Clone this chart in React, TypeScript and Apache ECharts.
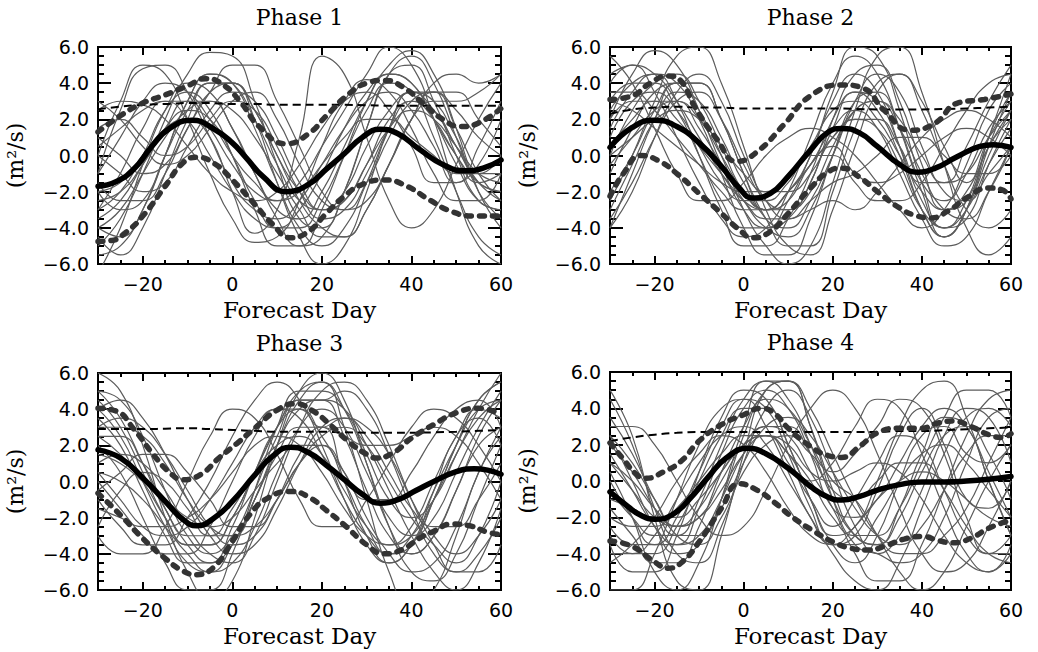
import React, { useEffect, useRef } from 'react';
import * as echarts from 'echarts';

// Forecast days sampled every 5 days (ensemble members and spread line)
const DAYS = [-30, -25, -20, -15, -10, -5, 0, 5, 10, 15, 20, 25, 30, 35, 40, 45, 50, 55, 60];

const TITLES = ['Phase 1', 'Phase 2', 'Phase 3', 'Phase 4'];
const X_LABELS = [-20, 0, 20, 40, 60];
const X_MAJOR = [-20, 0, 20, 40];
const X_MINOR = [-25, -15, -10, -5, 5, 10, 15, 25, 30, 35, 45, 50, 55];
const Y_MAJOR = [-4, -2, 0, 2, 4];
const Y_MINOR = [-5.5, -5, -4.5, -3.5, -3, -2.5, -1.5, -1, -0.5, 0.5, 1, 1.5, 2.5, 3, 3.5, 4.5, 5, 5.5];

type Pt = [number, number];

// ---------- Phase 1 ----------
const P1_MEAN: Pt[] = [[-30, -1.7], [-26, -1.45], [-22, -0.75], [-18, 0.5], [-14, 1.5], [-9, 1.95], [-4, 1.45], [0, 0.7], [3, -0.1], [7, -1.2], [12, -2.0], [17, -1.6], [21, -0.75], [25, 0.1], [29, 1.0], [33, 1.45], [37, 1.2], [42, 0.3], [47, -0.5], [52, -0.85], [56, -0.7], [60, -0.25]];
const P1_UPPER: Pt[] = [[-30, 1.3], [-25, 2.2], [-20, 2.9], [-15, 3.35], [-10, 3.85], [-6, 4.25], [-2, 3.9], [2, 2.9], [6, 1.6], [12, 0.65], [17, 1.2], [21, 2.2], [26, 3.4], [30, 4.0], [34, 4.15], [38, 3.8], [43, 2.8], [47, 2.0], [51, 1.6], [55, 1.8], [60, 2.6]];
const P1_LOWER: Pt[] = [[-30, -4.75], [-27, -4.7], [-24, -4.3], [-20, -3.35], [-15, -1.7], [-11, -0.4], [-8, -0.1], [-4, -0.45], [0, -1.35], [5, -2.7], [9, -3.8], [13, -4.55], [17, -4.2], [21, -3.2], [25, -2.25], [29, -1.6], [34, -1.35], [39, -1.7], [44, -2.45], [49, -3.1], [54, -3.35], [60, -3.35]];
const P1_SPREAD = [2.55, 2.7, 2.8, 2.85, 2.9, 2.9, 2.85, 2.85, 2.8, 2.8, 2.8, 2.8, 2.78, 2.75, 2.75, 2.75, 2.75, 2.75, 2.75];
const P1_MEMBERS = [
  [-5, -3.5, -1, 2, 4.5, 5.7, 5.5, 3, -0.5, -3.5, -4, -2, 1.5, 4.5, 5, 3, 0, -2.5, -3],
  [-1, 2.5, 4.8, 5.0, 3.5, 1, -1.5, -3, -3.5, -2.5, -0.5, 1.5, 3, 3.5, 2.5, 0.5, -1.5, -0.5, 2],
  [0, 3, 5, 4.5, 2, -1, -3.5, -4.8, -4.5, -2.5, 0.5, 3, 4.2, 3.5, 1.5, -1, -2.5, -2.5, -1],
  [-2, -1.5, 0, 1.5, 2, 1, -2, -4.3, -3, 1, 5.5, 4.5, 1, -2.5, -4, -3, -0.5, 2, 4],
  [-3, -2, 0, 2.5, 3.5, 2.5, 0, -3, -5, -5, -3, 0, 3, 5, 5.8, 4.5, 1.5, -2, -4],
  [-6.5, -4, -0.5, 2.5, 4, 3.5, 1.5, -1, -3, -3.5, -2, 0.5, 3, 4.5, 4, 2, 0, -1.5, -2],
  [-4, -4.5, -3, 0, 3, 4.5, 4, 2, -0.5, -2.5, -3, -2, 0.5, 2.5, 3.5, 2.5, 0.5, -1.5, -2.5],
  [2.5, 3, 2.8, 2, 0.5, -1, -2, -2.5, -2, -0.5, 1.5, 3, 3.5, 2.5, 0.5, -1.5, -1.5, 0.5, 3],
  [-2, -3, -2.5, 0, 2.5, 4, 4, 2.5, 0, -2, -3, -2.5, -0.5, 1.5, 2.5, 2, 0.5, -1, -1.5],
  [1, 0, -1, -0.5, 1.5, 3.5, 4, 2, -1.5, -4.5, -6, -5, -2, 1.5, 3.5, 3, 1, -1, -1],
  [-3, -1, 1.5, 3, 3, 1.5, -0.5, -2, -2.5, -1.5, 0.5, 2.5, 4.5, 6, 5, 2, -2, -5, -6],
  [-4.5, -5.5, -4, -1, 2, 4, 4, 2.5, 0, -2.5, -4, -4.5, -3, -0.5, 2, 3, 3, 3.5, 4.5],
  [0.5, 1.5, 2.5, 3, 2, 0, -2, -3.5, -4, -3, -1, 1.5, 3.5, 4.5, 4, 2, -0.5, -2.5, -3],
  [-1.5, -2.5, -2.5, -1, 1.5, 3.5, 5, 5, 3, 0.5, -2, -3, -2.5, -0.5, 2, 3.5, 3.5, 2, 0.5],
  [-5.5, -5, -3, 0, 3, 4.5, 4, 1.5, -1.5, -4, -5, -4, -1.5, 1.5, 3.5, 3.5, 1.5, -1, -2.5],
  [3, 2, 0.5, -0.5, 0, 1.5, 3, 3.5, 2, -0.5, -2.5, -3, -1.5, 1, 3, 3.5, 2.5, 1, 0],
  [-2.5, -2, -0.5, 1.5, 3, 3, 1.5, -1, -3.5, -5, -4.5, -2, 1.5, 4.5, 5.5, 4, 1, -2, -3.5],
  [0, -1, -2, -1.5, 0.5, 2.5, 3.5, 3, 1, -1.5, -3, -2.5, -0.5, 2, 3, 2, 0, -1.5, -1],
  [-3.5, -2.5, -0.5, 1.5, 2.5, 2, 0, -2.5, -4, -4, -2.5, 0, 2.5, 4, 3.5, 1, -2, -4.5, -5.5],
  [1.5, 2, 1, 0, 0.5, 2, 3, 2.5, 0.5, -2, -3.5, -3, -1, 1.5, 3, 2.5, 0.5, -1.5, -2],
  [-1, 1, 3, 4, 3.5, 2, 0, -1.5, -2.5, -2, -0.5, 1, 2, 2, 1, 0, -1, -1, 0],
  [-4, -3, -1, 1, 2.5, 3, 2.5, 1, -1, -3, -4.5, -4.5, -3, -0.5, 2, 4, 4.5, 4, 4.5],
];

// ---------- Phase 2 ----------
const P2_MEAN: Pt[] = [[-30, 0.45], [-25, 1.55], [-20, 1.95], [-15, 1.6], [-10, 0.7], [-5, -0.6], [-1, -1.8], [2, -2.35], [6, -2.1], [10, -1.15], [15, 0.3], [19, 1.3], [22, 1.5], [26, 1.25], [30, 0.5], [35, -0.5], [39, -0.92], [43, -0.7], [48, -0.05], [53, 0.5], [56, 0.6], [60, 0.45]];
const P2_UPPER: Pt[] = [[-30, 3.1], [-25, 3.3], [-21, 4.0], [-17, 4.4], [-14, 4.1], [-11, 2.7], [-6, 0.9], [-1.5, -0.33], [3, 0.2], [9, 1.7], [15, 3.3], [22, 3.9], [27, 3.7], [31.5, 2.5], [37.5, 1.4], [43, 1.8], [48, 2.9], [54, 3.1], [60, 3.4]];
const P2_LOWER: Pt[] = [[-30, -2.25], [-27, -1.0], [-23, 0.0], [-19, -0.3], [-15, -1.0], [-10, -2.1], [-5, -3.2], [-1, -4.1], [2, -4.55], [6, -4.2], [10, -3.2], [15, -1.8], [19, -0.9], [22, -0.7], [26, -1.2], [30, -2.0], [35, -2.9], [39, -3.35], [42, -3.45], [46, -3.05], [50, -2.35], [55, -1.8], [58, -1.9], [60, -2.4]];
const P2_SPREAD = [2.3, 2.55, 2.65, 2.7, 2.65, 2.65, 2.6, 2.6, 2.6, 2.6, 2.6, 2.58, 2.55, 2.55, 2.55, 2.57, 2.6, 2.65, 2.7];
const P2_MEMBERS = [
  [2, 4.5, 5.8, 5, 2.5, -0.5, -3, -4, -3.5, -1.5, 1.5, 3.5, 3, 0.5, -2.5, -4, -3, -0.5, 1.5],
  [-4, -1, 2, 4, 4, 2, -1, -3.5, -4, -2.5, 0, 2.5, 3, 1.5, -1, -3, -3.5, -2, 0.5],
  [4.5, 5, 3.5, 1, -1.5, -3.5, -4.5, -4, -2, 1, 4, 5.5, 4.5, 1.5, -2, -4.5, -3, 1, 3.5],
  [0, 2.5, 4, 4.5, 3, 0.5, -2, -3, -2.5, -0.5, 0.5, -1, -1.5, -1, 0, 1, 1.5, 1, 0],
  [-2, 0, 2.5, 4, 4, 2, -1, -3.5, -5, -5, -2, 1.5, 4, 4.5, 2.5, -0.5, -3, -4, -3],
  [3, 4, 4, 2.5, 0, -2.5, -4, -4, -2.5, 0, 3, 4.5, 3.5, 0.5, -3, -4.5, -3, 0, 2.5],
  [-3.5, -1.5, 1, 3, 3.5, 2, -0.5, -2.5, -3, -2, 0.5, 2.5, 3, 2, 0, -1.5, -1, 1, 2.5],
  [1, 3, 3.5, 2.5, 0.5, -1.5, -2.5, -2.5, -1.5, 0, 0, -1.5, -2.5, -2.5, -1.5, 0.5, 2.5, 4, 4.5],
  [5.5, 4, 1.5, -1, -2.5, -2.5, -1.5, 0, 1, 1.5, 1, 0, -1.5, -3, -4, -3, -0.5, 2.5, 4],
  [-1, 1.5, 3.5, 4, 2.5, 0, -3, -5, -6, -5, -1.5, 2.5, 5.5, 6, 3.5, -0.5, -4, -5.5, -4.5],
  [2, 3, 3, 2, 0.5, -1, -2.5, -3.5, -3.5, -2.5, -1.5, -1, 0, 1, 1, 0, -1, -1, 0],
  [-2.5, 0, 3, 5.5, 6, 4, 0.5, -3, -5, -5.5, -3, 0.5, 3.5, 4.5, 3, 0.5, -1.5, 1, 3],
  [3.5, 3.5, 2.5, 1, -0.5, -2, -3, -3, -2, -0.5, 1.5, 2.5, 1.5, -1, -3.5, -5, -4.5, -2, 0.5],
  [0.5, 2, 3, 3, 1.5, -0.5, -2.5, -4, -4.5, -3, 0, 3, 4.5, 3.5, 0.5, -2, -2.5, -1, 0.5],
  [-0.5, 1, 2.5, 3, 2, 0, -2, -3, -2, 0, 3.5, 6, 5.5, 2.5, -1.5, -4, -3.5, -0.5, 2],
  [1.5, 3.5, 4.5, 4, 2, -1, -4, -5.5, -5.5, -3.5, 0, 3, 3.5, 1.5, -1.5, -2.5, -1, 1.5, 3],
  [4, 5, 4.5, 3, 1, -1, -2.5, -3, -2, -0.5, 1, 2, 1.5, -0.5, -3, -4, -2.5, 0.5, 2],
  [-4, -2, 1, 3.5, 4.5, 3, 0, -2.5, -3.5, -3, -2.5, -3, -2, -0.5, 1, 2, 2.5, 2, 1],
  [2.5, 4, 4.5, 3, 0, -3, -5, -5, -3.5, -1, 2, 3.5, 2.5, 0, -3, -4.5, -3, 0.5, 3.5],
  [0, 1, 2, 2.5, 2, 0.5, -1, -2, -2, -1, 1, 2, 2, 0.5, -1.5, -1.5, 0.5, 3, 5],
  [-3, -0.5, 2, 3.5, 3, 1, -1.5, -3, -3, -1.5, 2, 4.5, 5, 3, -0.5, -3, -2.5, 1, 4.5],
  [3, 2.5, 1.5, 0.5, -0.5, -1.5, -2, -2, -1, 0.5, 2.5, 3, 2, 0, -2, -3, -2, 0.5, 2.5],
];

// ---------- Phase 3 ----------
const P3_MEAN: Pt[] = [[-30, 1.75], [-25, 1.3], [-20, 0.2], [-15, -1.1], [-11, -2.1], [-8, -2.45], [-4, -2.0], [0, -1.1], [5, 0.35], [9, 1.4], [13, 1.9], [17, 1.6], [21, 0.9], [25, 0.1], [29, -0.7], [33, -1.2], [37, -1.0], [41, -0.5], [45, 0.0], [50, 0.55], [54, 0.7], [60, 0.4]];
const P3_UPPER: Pt[] = [[-30, 4.05], [-26, 3.9], [-22, 2.9], [-18, 1.6], [-14, 0.5], [-11, 0.1], [-7, 0.4], [-3, 1.3], [1, 2.1], [5, 2.95], [10, 3.95], [14, 4.3], [18, 3.9], [22, 3.1], [26, 2.2], [30, 1.5], [32, 1.3], [36, 1.6], [40, 2.4], [45, 3.15], [50, 3.8], [55, 4.05], [60, 3.7]];
const P3_LOWER: Pt[] = [[-30, -0.65], [-25, -1.85], [-20, -3.15], [-15, -4.25], [-11, -4.95], [-8, -5.15], [-4, -4.7], [0, -3.3], [4, -1.8], [8, -0.9], [13, -0.55], [17, -0.85], [21, -1.6], [25, -2.4], [30, -3.5], [34, -4.0], [38, -3.75], [42, -3.1], [45, -2.75], [49, -2.35], [53, -2.45], [57, -2.8], [60, -2.95]];
const P3_SPREAD = [2.9, 2.9, 2.9, 2.92, 2.95, 2.9, 2.85, 2.8, 2.75, 2.75, 2.75, 2.72, 2.7, 2.7, 2.7, 2.72, 2.75, 2.8, 2.85];
const P3_MEMBERS = [
  [5, 4.5, 2.5, -0.5, -3, -4, -3, -0.5, 2.5, 4.5, 4.5, 2.5, -0.5, -3, -4, -3, -0.5, 2.5, 4.5],
  [2.5, 2.5, 1, -1.5, -3.5, -4.5, -3.5, -1, 2, 4, 4.5, 4, 2, -0.5, -3, -5, -6, -4.5, -1.5],
  [-1, -2.5, -3.5, -3.5, -2, 0, 2.5, 4.5, 5.5, 4.5, 2, -1, -3.5, -4.5, -3.5, -1, 2, 4.5, 5.5],
  [3.5, 2, -0.5, -3, -4.5, -4.5, -2.5, 0.5, 3, 4, 3, 3.5, 3, 1.5, -1, -3, -4, -3, -1],
  [6, 5, 2, -2, -5, -6.5, -5.5, -2, 2, 5, 6, 4.5, 1, -2.5, -4, -3, -0.5, 2, 3],
  [1.5, 1, 0, -1, -2, -2.5, -2, -0.5, 1, 2, 2, 0.5, -2, -4, -5, -4.5, -2.5, 0.5, 3],
  [0, -1.5, -3, -4, -4, -2.5, 0, 2.5, 4, 4, 2.5, 0.5, -1, -1, 0.5, 2.5, 4, 4.5, 3],
  [4, 4.5, 3.5, 1.5, -1, -3, -4, -3.5, -1.5, 1, 3, 3.5, 2.5, 0.5, -1.5, -2.5, -2.5, -1, 1],
  [-2.5, -0.5, 0.5, 0, -1.5, -3, -3, -1, 2, 4.5, 5.5, 4, 1, -2.5, -5, -5.5, -4, -1, 2],
  [2, 0.5, -2, -4.5, -6, -6, -4, -0.5, 3, 5, 5, 4, 1.5, -1, -2, -1, 1.5, 4, 6],
  [3, 3, 2.5, 1, -1, -2.5, -3, -2.5, -1, 1, 2, 0, -2.5, -4, -3.5, -1, 2, 4.5, 5.5],
  [0.5, -1, -2.5, -3, -2.5, -1, 1, 3, 4, 3.5, 1.5, -1, -3, -4, -3, -0.5, 2, 4, 4.5],
  [4.5, 3, 0.5, -2, -3.5, -3.5, -2, 0.5, 3, 4.5, 4.5, 5, 4, 1.5, -1.5, -4, -5, -4, -2],
  [-3, -4, -4, -2.5, 0, 2.5, 4, 3.5, 1.5, -1, -2.5, -2.5, -1, 1, 3, 4, 3.5, 2, 0],
  [1, 1.5, 1, -0.5, -2.5, -4, -4.5, -3, 0, 3, 5, 5.5, 4.5, 2, -1, -3.5, -5, -5, -3.5],
  [5, 3.5, 1, -1.5, -3, -3, -1.5, 0.5, 2, 2.5, 1.5, -0.5, -2.5, -3.5, -3, -1, 1.5, 3.5, 4.5],
  [2.5, 1.5, 0, -2, -3.5, -3.5, -2, 0.5, 3, 5, 5.5, 3, -1, -5, -7, -6, -3, 0.5, 2.5],
  [-1.5, -2, -2.5, -2.5, -2, -1, 0.5, 2, 2.5, 2, 0.5, -1.5, -3, -3.5, -2.5, 0, 2.5, 4, 3.5],
  [3, 3.5, 3, 1.5, -0.5, -2.5, -3.5, -3, -1, 1.5, 3, 2.5, 2, 2, 2.5, 3, 2.5, 1, -1],
  [0.5, 0, -1, -2.5, -4, -5, -4.5, -2.5, 0.5, 3, 4, 3, 0.5, -2, -3, -2, 0.5, 3, 5],
  [4, 2.5, 0, -2.5, -4.5, -5, -3.5, -1, 1.5, 3, 3, 0, -3, -4.5, -3.5, -0.5, 2.5, 3.5, 2],
  [-0.5, 0.5, 1.5, 1.5, 0.5, -1, -2.5, -2.5, -1, 1, 2.5, 3, 2, 0, -2, -3.5, -4.5, -3, 0],
];

// ---------- Phase 4 ----------
const P4_MEAN: Pt[] = [[-30, -0.6], [-26, -1.4], [-23, -1.9], [-20, -2.1], [-16, -1.85], [-12, -0.95], [-8, 0.2], [-4, 1.25], [1, 1.8], [5, 1.5], [10, 0.7], [15, -0.3], [19, -0.9], [22, -1.05], [26, -0.85], [30, -0.5], [35, -0.2], [40, -0.05], [45, -0.05], [50, 0.0], [55, 0.1], [60, 0.25]];
const P4_UPPER: Pt[] = [[-30, 2.1], [-27, 1.2], [-24, 0.35], [-22, 0.15], [-18, 0.5], [-14, 1.1], [-10, 2.2], [-5, 3.1], [0, 3.65], [4, 4.0], [7, 3.7], [10, 2.9], [15, 1.9], [19, 1.4], [22, 1.3], [26, 1.9], [30, 2.65], [35, 2.9], [40, 2.9], [43, 3.15], [47, 3.3], [51, 3.0], [55, 2.55], [58, 2.4], [60, 2.6]];
const P4_LOWER: Pt[] = [[-30, -3.3], [-25, -3.6], [-20, -4.45], [-17, -4.8], [-14, -4.5], [-10, -3.35], [-5, -1.5], [-1, -0.15], [3, -0.5], [7, -1.2], [11, -2.0], [16, -2.8], [20, -3.35], [24, -3.7], [28, -3.8], [32, -3.55], [36, -3.2], [40, -3.05], [44, -3.3], [47, -3.4], [51, -3.15], [55, -2.6], [60, -2.15]];
const P4_SPREAD = [2.2, 2.4, 2.55, 2.65, 2.7, 2.7, 2.7, 2.7, 2.7, 2.7, 2.7, 2.7, 2.7, 2.75, 2.75, 2.8, 2.85, 2.9, 2.95];
const P4_MEMBERS = [
  [4.5, 2, -1.5, -4, -4.5, -2.5, 1, 4, 5, 3.5, 0.5, -2.5, -4, -3, -0.5, 2.5, 4, 3.5, 1],
  [0, -2, -3.5, -3.5, -1.5, 1.5, 4, 5, 4, 1.5, -1.5, -2, -1, 1, 3, 4, 3, 0.5, -2],
  [-3, -4, -4, -2.5, 0, 2.5, 4, 4, 2, -1, -3, -2.5, 0, 3, 5, 5.5, 3.5, 0, -3],
  [1.5, -0.5, -2.5, -3.5, -3, -1, 1.5, 3, 3, 1.5, -0.5, -1, 0, 1, 1, -0.5, -2.5, -4, -4.5],
  [-6, -6, -4, -1, 2, 4, 4.5, 3, 0.5, -2, -3.5, -3.5, -2, 0, 1.5, 2, 1, -0.5, -2],
  [2.5, 1, -1, -2.5, -2, 0, 2, 3, 2.5, 0.5, -1.5, -4, -5.5, -5.5, -3.5, -0.5, 2.5, 4.5, 5],
  [-1.5, -3, -4.5, -4.5, -2.5, 0.5, 3, 4.5, 4, 2, 0, -1, -3, -5, -6, -5, -2.5, 0, 2],
  [3, 3, 2, 0, -2, -3, -2.5, -0.5, 2, 4, 5, 4, 1.5, -1.5, -4, -5, -4.5, -2.5, 0],
  [-2, -2.5, -2.5, -1.5, 0, 1.5, 2.5, 2.5, 1, -1, -2.5, -1, 1, 2.5, 2, -0.5, -3, -4, -3],
  [0.5, -2, -5, -6, -4.5, -1, 3, 5.5, 5.5, 3, -0.5, -3, -3.5, -1.5, 1.5, 3.5, 3, 0, -3],
  [-4, -4, -3, -1, 1, 2.5, 3, 2, 0, -2, -4, -5.5, -6, -4.5, -1.5, 1.5, 3.5, 4, 3],
  [2, 0.5, -1.5, -3, -3, -1.5, 1, 3, 3.5, 2.5, 0.5, -1.5, -3, -3.5, -2.5, -0.5, 1.5, 2.5, 2.5],
  [5, 2.5, -2, -5.5, -6, -3, 1.5, 5, 5.5, 3, -1, -3.5, -4, -4.5, -4, -2, 1, 3.5, 4],
  [-2.5, -3.5, -3.5, -2, 0.5, 3, 4.5, 4, 1.5, -1.5, -3.5, -3, -0.5, 2.5, 4, 2, -1, -1.5, 0],
  [1, 0, -1.5, -2.5, -2, -0.5, 1.5, 2.5, 2, 0.5, 0, 0.5, 1, 0.5, -1, -3, -4.5, -5, -3.5],
  [-0.5, -2, -3, -3, -1, 2, 4.5, 5.5, 4.5, 2, -1, -3, -3.5, -2, 0.5, 2.5, 3, 1.5, -1],
  [3.5, 1.5, -1, -3, -3.5, -2, 0.5, 2, 2.5, 1.5, 0.5, 1.5, 3, 4.5, 4, 1.5, -2, -4, -4],
  [-3.5, -5, -5, -3, 0.5, 3.5, 5, 4.5, 2, -1, -3.5, -4.5, -3, 0, 2.5, 3, 1.5, 1, 2],
  [1, -0.5, -2, -2.5, -1.5, 0.5, 2, 2.5, 1.5, 0, -2, -3, -3, -1.5, 1, 3.5, 5, 5, 3.5],
  [-1, -1.5, -2, -2, -1, 0.5, 2, 2.5, 1.5, 0, 1, 3, 4.5, 4, 1.5, -1.5, -4, -5, -4],
  [2.5, 0, -2.5, -4, -3.5, -1, 2.5, 5, 5.5, 4, 1.5, -1, -3, -4, -4, -3, -1.5, 1, 3.5],
  [-4.5, -3.5, -2, 0, 1.5, 2.5, 2, 0.5, -1.5, -3, -3.5, -2.5, -1, 0, 0.5, 0, -1, -2, -2.5],
];

const PANELS = [
  { mean: P1_MEAN, upper: P1_UPPER, lower: P1_LOWER, spread: P1_SPREAD, members: P1_MEMBERS },
  { mean: P2_MEAN, upper: P2_UPPER, lower: P2_LOWER, spread: P2_SPREAD, members: P2_MEMBERS },
  { mean: P3_MEAN, upper: P3_UPPER, lower: P3_LOWER, spread: P3_SPREAD, members: P3_MEMBERS },
  { mean: P4_MEAN, upper: P4_UPPER, lower: P4_LOWER, spread: P4_SPREAD, members: P4_MEMBERS },
];

const GRIDS = [
  { left: 98, top: 47, width: 403, height: 217 },
  { left: 610, top: 47, width: 401, height: 217 },
  { left: 98, top: 373, width: 403, height: 217 },
  { left: 610, top: 372, width: 401, height: 218 },
];

const SERIF = '"DejaVu Serif", "Liberation Serif", serif';
const SANS = '"DejaVu Sans", "Liberation Sans", sans-serif';

function fmtY(v: number) {
  const s = Math.abs(v).toFixed(1);
  return v < 0 ? '\u2212' + s : s;
}
function fmtX(v: number) {
  return v < 0 ? '\u2212' + Math.abs(v) : String(v);
}

function buildOption() {
  const grid: any[] = [];
  const xAxis: any[] = [];
  const yAxis: any[] = [];
  const series: any[] = [];
  const graphic: any[] = [];
  const tickStyle = { color: '#000', width: 2 };
  const noLine = { show: false, onZero: false };

  GRIDS.forEach((g, gi) => {
    grid.push({ ...g, show: true, borderColor: '#000', borderWidth: 2, backgroundColor: 'transparent' });
    graphic.push({
      type: 'text',
      x: g.left + g.width / 2,
      y: g.top - 30,
      style: { text: TITLES[gi], font: `22px ${SERIF}`, fill: '#000', textAlign: 'center', textVerticalAlign: 'middle' },
    });
    const xBase = { type: 'value', gridIndex: gi, min: -30, max: 60, axisLine: noLine, splitLine: { show: false } };
    xAxis.push({
      ...xBase,
      position: 'bottom',
      axisTick: { show: true, inside: true, length: 8, customValues: X_MAJOR, lineStyle: tickStyle },
      axisLabel: { show: true, customValues: X_LABELS, formatter: fmtX, margin: 10, color: '#000', fontFamily: SANS, fontSize: 19 },
      name: 'Forecast Day',
      nameLocation: 'middle',
      nameGap: 34,
      nameTextStyle: { color: '#000', fontFamily: SERIF, fontSize: 23 },
    });
    xAxis.push({
      ...xBase,
      position: 'bottom',
      axisTick: { show: true, inside: true, length: 4, customValues: X_MINOR, lineStyle: tickStyle },
      axisLabel: { show: false },
    });
    xAxis.push({
      ...xBase,
      position: 'top',
      axisTick: { show: true, inside: true, length: 8, customValues: X_MAJOR, lineStyle: tickStyle },
      axisLabel: { show: false },
    });
    xAxis.push({
      ...xBase,
      position: 'top',
      axisTick: { show: true, inside: true, length: 4, customValues: X_MINOR, lineStyle: tickStyle },
      axisLabel: { show: false },
    });

    const yBase = { type: 'value', gridIndex: gi, min: -6, max: 6, interval: 2, axisLine: noLine, splitLine: { show: false } };
    yAxis.push({
      ...yBase,
      position: 'left',
      axisTick: { show: true, inside: true, length: 13, customValues: Y_MAJOR, lineStyle: tickStyle },
      axisLabel: { show: true, formatter: fmtY, margin: 9, color: '#000', fontFamily: SANS, fontSize: 19 },
      name: '(m\u00b2/s)',
      nameLocation: 'middle',
      nameGap: 72,
      nameTextStyle: { color: '#000', fontFamily: SERIF, fontSize: 22 },
    });
    yAxis.push({
      ...yBase,
      position: 'left',
      axisTick: { show: true, inside: true, length: 6, customValues: Y_MINOR, lineStyle: tickStyle },
      axisLabel: { show: false },
    });
    yAxis.push({
      ...yBase,
      position: 'right',
      axisTick: { show: true, inside: true, length: 13, customValues: Y_MAJOR, lineStyle: tickStyle },
      axisLabel: { show: false },
    });
    yAxis.push({
      ...yBase,
      position: 'right',
      axisTick: { show: true, inside: true, length: 6, customValues: Y_MINOR, lineStyle: tickStyle },
      axisLabel: { show: false },
    });

    const p = PANELS[gi];
    const toData = (arr: number[]) => DAYS.map((d, i) => [d, arr[i]]);
    const common = { type: 'line', xAxisIndex: gi * 4, yAxisIndex: gi * 4, symbol: 'none', smooth: 0.5, silent: true };
    p.members.forEach((m) => {
      series.push({ ...common, data: toData(m), z: 2, lineStyle: { color: '#5c5c5c', width: 1.2 } });
    });
    series.push({ ...common, data: toData(p.spread), z: 3, lineStyle: { color: '#000', width: 2, type: [8, 5] } });
    series.push({ ...common, data: p.upper, z: 4, clip: false, lineStyle: { color: '#333', width: 5.5, type: [5, 8], cap: 'round' } });
    series.push({ ...common, data: p.lower, z: 4, clip: false, lineStyle: { color: '#333', width: 5.5, type: [5, 8], cap: 'round' } });
    series.push({ ...common, data: p.mean, z: 5, clip: false, lineStyle: { color: '#000', width: 5.5, cap: 'round' } });
  });

  return { animation: false, backgroundColor: '#fff', grid, xAxis, yAxis, series, graphic };
}

export default function App() {
  const ref = useRef<HTMLDivElement>(null);
  useEffect(() => {
    if (!ref.current) return;
    const chart = echarts.init(ref.current, undefined, { renderer: 'svg' });
    chart.setOption(buildOption() as any);
    return () => chart.dispose();
  }, []);
  return <div ref={ref} style={{ position: 'fixed', left: 0, top: 0, width: 1038, height: 652, background: '#fff' }} />;
}
